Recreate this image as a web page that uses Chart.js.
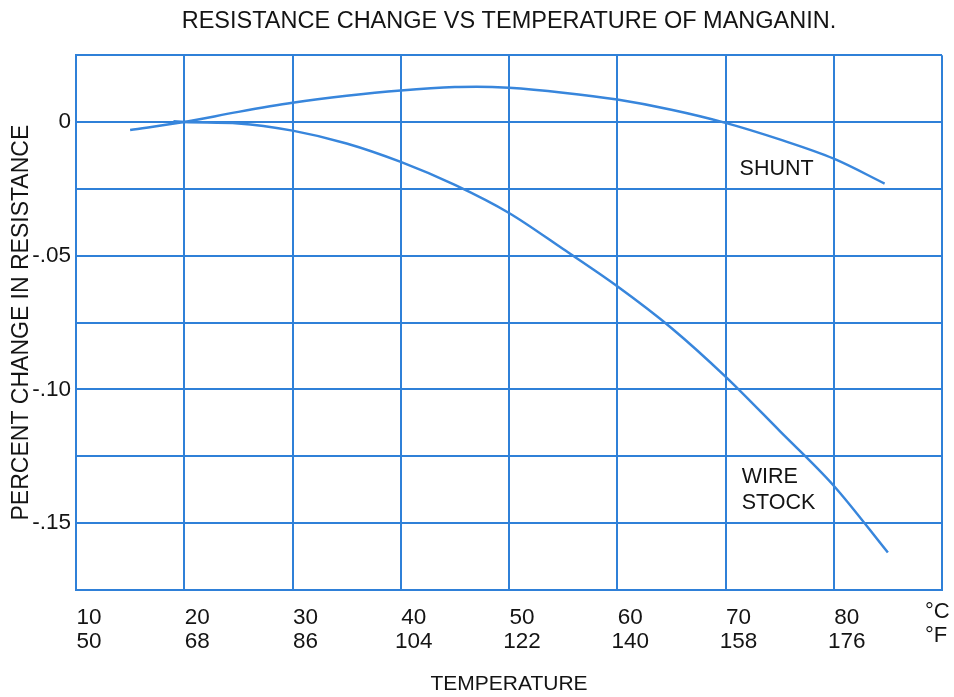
<!DOCTYPE html>
<html>
<head>
<meta charset="utf-8">
<script src="https://cdn.jsdelivr.net/npm/chart.js@4/dist/chart.umd.min.js"></script>
<style>
  html, body { margin: 0; padding: 0; background: #fff; }
  #wrap { width: 954px; height: 697px; }
</style>
</head>
<body>
<div id="wrap"><canvas id="myChart" width="954" height="697"></canvas></div>
<script>
// temperatures in degrees C
const celsiusTicks = [10, 20, 30, 40, 50, 60, 70, 80];
const fahrenheitTicks = [50, 68, 86, 104, 122, 140, 158, 176];

const shuntTemps  = [15, 20, 25, 30, 35, 40, 45, 47, 50, 55, 60, 65, 70, 75, 80, 84.7];
const shuntValues = [-0.003, 0.0, 0.0038, 0.0072, 0.0098, 0.0118, 0.0131, 0.0132, 0.0128, 0.011, 0.0084, 0.0046, -0.0003, -0.0065, -0.0137, -0.023];

const wireTemps  = [19, 20, 25, 30, 35, 40, 45, 50, 55, 60, 65, 70, 75, 80, 85];
const wireValues = [0.0003, 0.0, -0.0005, -0.0032, -0.008, -0.0149, -0.0235, -0.034, -0.0475, -0.0614, -0.077, -0.0952, -0.1155, -0.136, -0.161];

const yTickLabels = { '0': '0', '-50': '-.05', '-100': '-.10', '-150': '-.15' };

// curve names written inside the plot
const curveNames = [
    { text: 'SHUNT', x: 71.3, y: -0.0176 },
    { text: 'WIRE',  x: 71.5, y: -0.1328 },
    { text: 'STOCK', x: 71.5, y: -0.1425 }
];

const FONT = "'Liberation Sans', Arial, sans-serif";
const TEXT = '#141414';
const GRID = '#2f80d8';
const CURVE = '#3886dc';

function toPoints(xs, ys) {
    return xs.map((x, i) => ({ x: x, y: ys[i] }));
}

const labelsPlugin = {
    id: 'curveLabels',
    afterDatasetsDraw(chart) {
        const ctx = chart.ctx;
        const xs = chart.scales.x, ys = chart.scales.y;
        ctx.save();
        ctx.fillStyle = TEXT;
        ctx.font = '21.5px ' + FONT;
        ctx.textAlign = 'left';
        ctx.textBaseline = 'middle';
        curveNames.forEach(l => {
            ctx.fillText(l.text, xs.getPixelForValue(l.x), ys.getPixelForValue(l.y));
        });
        // unit marks at the right end of the temperature axis
        ctx.font = '22px ' + FONT;
        const ux = xs.right - 17;
        ctx.fillText('°C', ux, 612);
        ctx.fillText('°F', ux, 636);
        ctx.restore();
    }
};

const ctx = document.getElementById('myChart').getContext('2d');
new Chart(ctx, {
    type: 'line',
    data: {
        datasets: [{
            label: 'Shunt',
            data: toPoints(shuntTemps, shuntValues),
            borderColor: CURVE,
            borderWidth: 2.5,
            pointRadius: 0,
            fill: false,
            cubicInterpolationMode: 'monotone'
        }, {
            label: 'Wire stock',
            data: toPoints(wireTemps, wireValues),
            borderColor: CURVE,
            borderWidth: 2.5,
            pointRadius: 0,
            fill: false,
            cubicInterpolationMode: 'monotone'
        }]
    },
    options: {
        responsive: false,
        animation: false,
        layout: { padding: { left: 0, right: 12, top: 0, bottom: 0 } },
        plugins: {
            legend: { display: false },
            tooltip: { enabled: false },
            title: {
                display: true,
                fullSize: false,
                text: 'RESISTANCE CHANGE VS TEMPERATURE OF MANGANIN.',
                color: TEXT,
                font: { family: FONT, size: 23.5, weight: 'normal', lineHeight: 1.2 },
                padding: { top: 7, bottom: 20 }
            }
        },
        scales: {
            x: {
                type: 'linear',
                min: 10,
                max: 90,
                afterFit: s => { s.height = 107; s.paddingRight = 0; s.paddingLeft = 0; },
                afterBuildTicks: s => {
                    s.ticks = celsiusTicks.concat([90]).map(v => ({ value: v }));
                },
                ticks: {
                    color: TEXT,
                    font: { family: FONT, size: 22.5, lineHeight: 1.1 },
                    padding: 15,
                    labelOffset: 13,
                    maxRotation: 0,
                    autoSkip: false,
                    callback: v => {
                        const i = celsiusTicks.indexOf(v);
                        return i < 0 ? '' : [String(v), String(fahrenheitTicks[i])];
                    }
                },
                grid: { color: GRID, lineWidth: 2, drawTicks: false },
                border: { color: GRID, width: 2 },
                title: {
                    display: true,
                    text: 'TEMPERATURE',
                    color: TEXT,
                    font: { family: FONT, size: 21 },
                    padding: { top: 0, bottom: 0 }
                }
            },
            y: {
                min: -0.175,
                max: 0.025,
                afterFit: s => { s.width = 76; },
                ticks: {
                    stepSize: 0.025,
                    color: TEXT,
                    font: { family: FONT, size: 22.5 },
                    padding: 5,
                    autoSkip: false,
                    callback: v => {
                        const k = String(Math.round(v * 1000));
                        return yTickLabels[k] !== undefined ? yTickLabels[k] : '';
                    }
                },
                grid: { color: GRID, lineWidth: 2, drawTicks: false },
                border: { color: GRID, width: 2 },
                title: {
                    display: true,
                    text: 'PERCENT CHANGE IN RESISTANCE',
                    color: TEXT,
                    font: { family: FONT, size: 23 },
                    padding: { top: 8, bottom: 0 }
                }
            }
        }
    },
    plugins: [labelsPlugin]
});
</script>
</body>
</html>
